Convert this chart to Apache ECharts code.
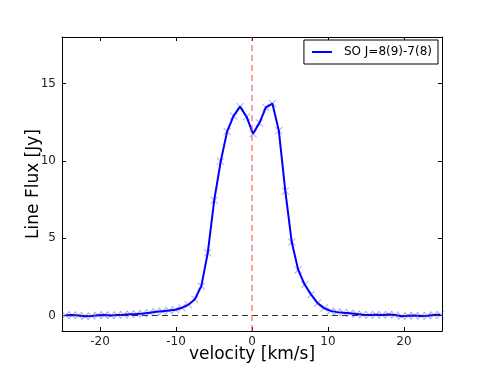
<!DOCTYPE html>
<html><head><meta charset="utf-8">
<script src="https://cdn.jsdelivr.net/npm/echarts@6/dist/echarts.min.js"></script>
<style>html,body{margin:0;padding:0;background:#fff}#c{width:491px;height:368px}</style>
</head><body><div id="c"></div>
<script>
const velocity = [-24.52,-23.67,-22.82,-21.97,-21.12,-20.27,-19.42,-18.57,-17.72,-16.87,-16.02,-15.17,-14.32,-13.47,-12.62,-11.77,-10.92,-10.07,-9.22,-8.37,-7.52,-6.67,-5.82,-4.97,-4.12,-3.27,-2.42,-1.57,-0.72,0.13,0.98,1.83,2.68,3.53,4.38,5.23,6.08,6.93,7.78,8.63,9.48,10.33,11.18,12.03,12.88,13.73,14.58,15.43,16.28,17.13,17.98,18.83,19.68,20.53,21.38,22.23,23.08,23.93,24.78];
const flux = [0.02,0.03,0.0,-0.04,-0.03,0.02,0.04,0.0,0.03,0.05,0.08,0.1,0.13,0.18,0.24,0.28,0.32,0.37,0.5,0.7,1.05,1.9,4.05,7.45,9.95,11.9,12.9,13.5,12.85,11.75,12.45,13.45,13.7,11.95,8.05,4.75,2.95,2.0,1.35,0.8,0.48,0.3,0.22,0.18,0.15,0.1,0.05,0.03,0.05,0.04,0.07,0.03,-0.05,-0.02,0.0,-0.03,-0.02,0.03,0.05];
const xTicks = [-20,-10,0,10,20];
const yTicks = [0,5,10,15];
const seriesName = 'SO J=8(9)-7(8)';

const pts = velocity.map((v,i)=>[v,flux[i]]);
const font = 'DejaVu Sans';
const tickStyle = {show:true, inside:true, length:4, lineStyle:{color:'#000',width:1}};
const lineAxis = {show:true, onZero:false, lineStyle:{color:'#000',width:1}};
const xCommon = {type:'value', min:-25, max:25, splitLine:{show:false}, axisLine:lineAxis};
const yCommon = {type:'value', min:-1, max:18, splitLine:{show:false}, axisLine:lineAxis};
const chart = echarts.init(document.getElementById('c'), null, {renderer:'canvas'});
chart.setOption({
  animation:false,
  backgroundColor:'#fff',
  grid:{left:62,right:49,top:37,bottom:37, containLabel:false, outerBoundsMode:'none'},
  xAxis:[
    Object.assign({}, xCommon, {position:'bottom', name:'velocity [km/s]', nameLocation:'middle', nameGap:15, nameMoveOverlap:false,
      nameTextStyle:{fontFamily:font,fontSize:17,color:'#000'},
      axisTick:Object.assign({customValues:xTicks},tickStyle),
      axisLabel:{customValues:xTicks, fontFamily:font, fontSize:12, color:'#222', margin:5}}),
    Object.assign({}, xCommon, {position:'top',
      axisTick:Object.assign({customValues:xTicks},tickStyle), axisLabel:{show:false}})
  ],
  yAxis:[
    Object.assign({}, yCommon, {position:'left', name:'Line Flux [Jy]', nameLocation:'middle', nameGap:20, nameMoveOverlap:false,
      nameTextStyle:{fontFamily:font,fontSize:17,color:'#000'},
      axisTick:Object.assign({customValues:yTicks},tickStyle),
      axisLabel:{customValues:yTicks, fontFamily:font, fontSize:12, color:'#222', margin:6}}),
    Object.assign({}, yCommon, {position:'right',
      axisTick:Object.assign({customValues:yTicks},tickStyle), axisLabel:{show:false}})
  ],
  legend:{
    data:[{name:seriesName, icon:'rect'}],
    right:53, top:40, orient:'vertical',
    padding:[6,6,6,8],
    borderColor:'#000', borderWidth:1, borderRadius:0, backgroundColor:'#fff',
    itemWidth:20, itemHeight:2, itemGap:10,
    textStyle:{fontFamily:font, fontSize:12, color:'#000', padding:[0,0,0,7]}
  },
  series:[
    {type:'scatter', name:'marks', data:pts, xAxisIndex:0, yAxisIndex:0, z:2,
      symbol:'path://M0,1L1,0L10,9L9,10ZM9,0L10,1L1,10L0,9Z', symbolSize:8,
      itemStyle:{color:'rgba(90,90,255,0.55)'}, silent:true},
    {type:'line', name:seriesName, data:pts, xAxisIndex:0, yAxisIndex:0, z:3,
      showSymbol:false, symbol:'none', lineStyle:{color:'#0000ff', width:2}, itemStyle:{color:'#0000ff'},
      markLine:{silent:true, symbol:'none', label:{show:false},
        data:[
          {yAxis:0, lineStyle:{color:'#333', type:[6,4], width:1}},
          {xAxis:0, lineStyle:{color:'rgba(255,60,60,0.6)', type:[6,4], width:1.6}}
        ]}}
  ]
});
</script></body></html>
